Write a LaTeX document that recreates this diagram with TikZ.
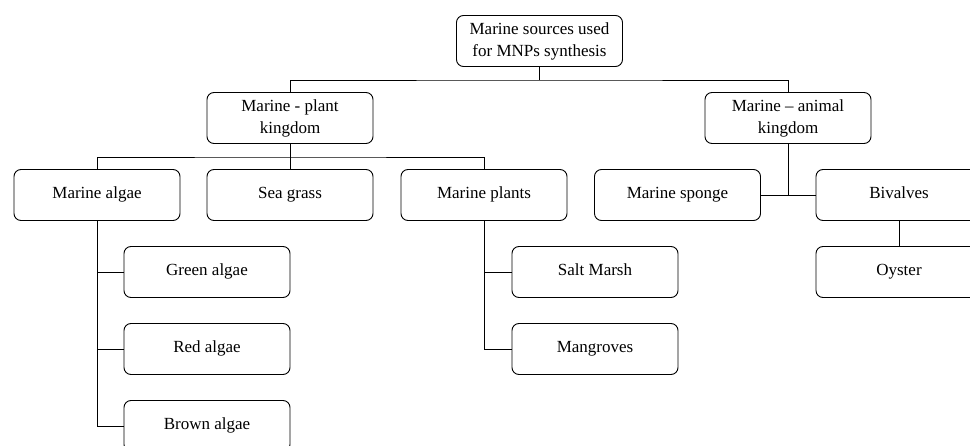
\documentclass[tikz,border=0pt]{standalone}
\usepackage{fontspec}
\setmainfont{Liberation Serif}
\usepackage{tikz}

\begin{document}
\begin{tikzpicture}[x=1pt,y=-1pt,
  box/.style={draw,rounded corners=7pt,line width=0.9pt,minimum width=166pt,minimum height=51pt,
    align=center,font=\fontsize{17}{22}\selectfont,inner sep=2pt},
  leaf/.style={box,text height=12pt,text depth=4pt},
  every path/.style={line width=0.9pt}]
\useasboundingbox (0,0) rectangle (970,446);
\node[box] (src) at (539.5,41) {Marine sources used\\for MNPs synthesis};
\node[box] (plant) at (290,118) {Marine - plant\\kingdom};
\node[box] (animal) at (788,118) {Marine -- animal\\kingdom};
\node[leaf] (algae) at (97,195) {Marine algae};
\node[leaf] (grass) at (290,195) {Sea grass};
\node[leaf] (plants) at (484,195) {Marine plants};
\node[leaf] (sponge) at (677.5,195) {Marine sponge};
\node[leaf] (bivalves) at (899,195) {Bivalves};
\node[leaf] (green) at (207,272) {Green algae};
\node[leaf] (red) at (207,349) {Red algae};
\node[leaf] (brown) at (207,426) {Brown algae};
\node[leaf] (marsh) at (595,272) {Salt Marsh};
\node[leaf] (mangroves) at (595,349) {Mangroves};
\node[leaf] (oyster) at (899,272) {Oyster};

\coordinate (top) at (539.5,80);
\coordinate (mid) at (290,157);

\draw (src) -- (top);
\draw (plant.north) |- (top) -| (animal.north);
\draw (plant) -- (grass);
\draw (algae.north) |- (mid) -| (plants.north);
\draw (algae.south) |- (brown.west);
\draw (algae.south |- green.west) -- (green.west);
\draw (algae.south |- red.west) -- (red.west);
\draw (plants.south) |- (mangroves.west);
\draw (plants.south |- marsh.west) -- (marsh.west);
\draw (animal.south) -- (animal.south |- sponge.east);
\draw (sponge) -- (bivalves);
\draw (bivalves) -- (oyster);
\end{tikzpicture}
\end{document}
